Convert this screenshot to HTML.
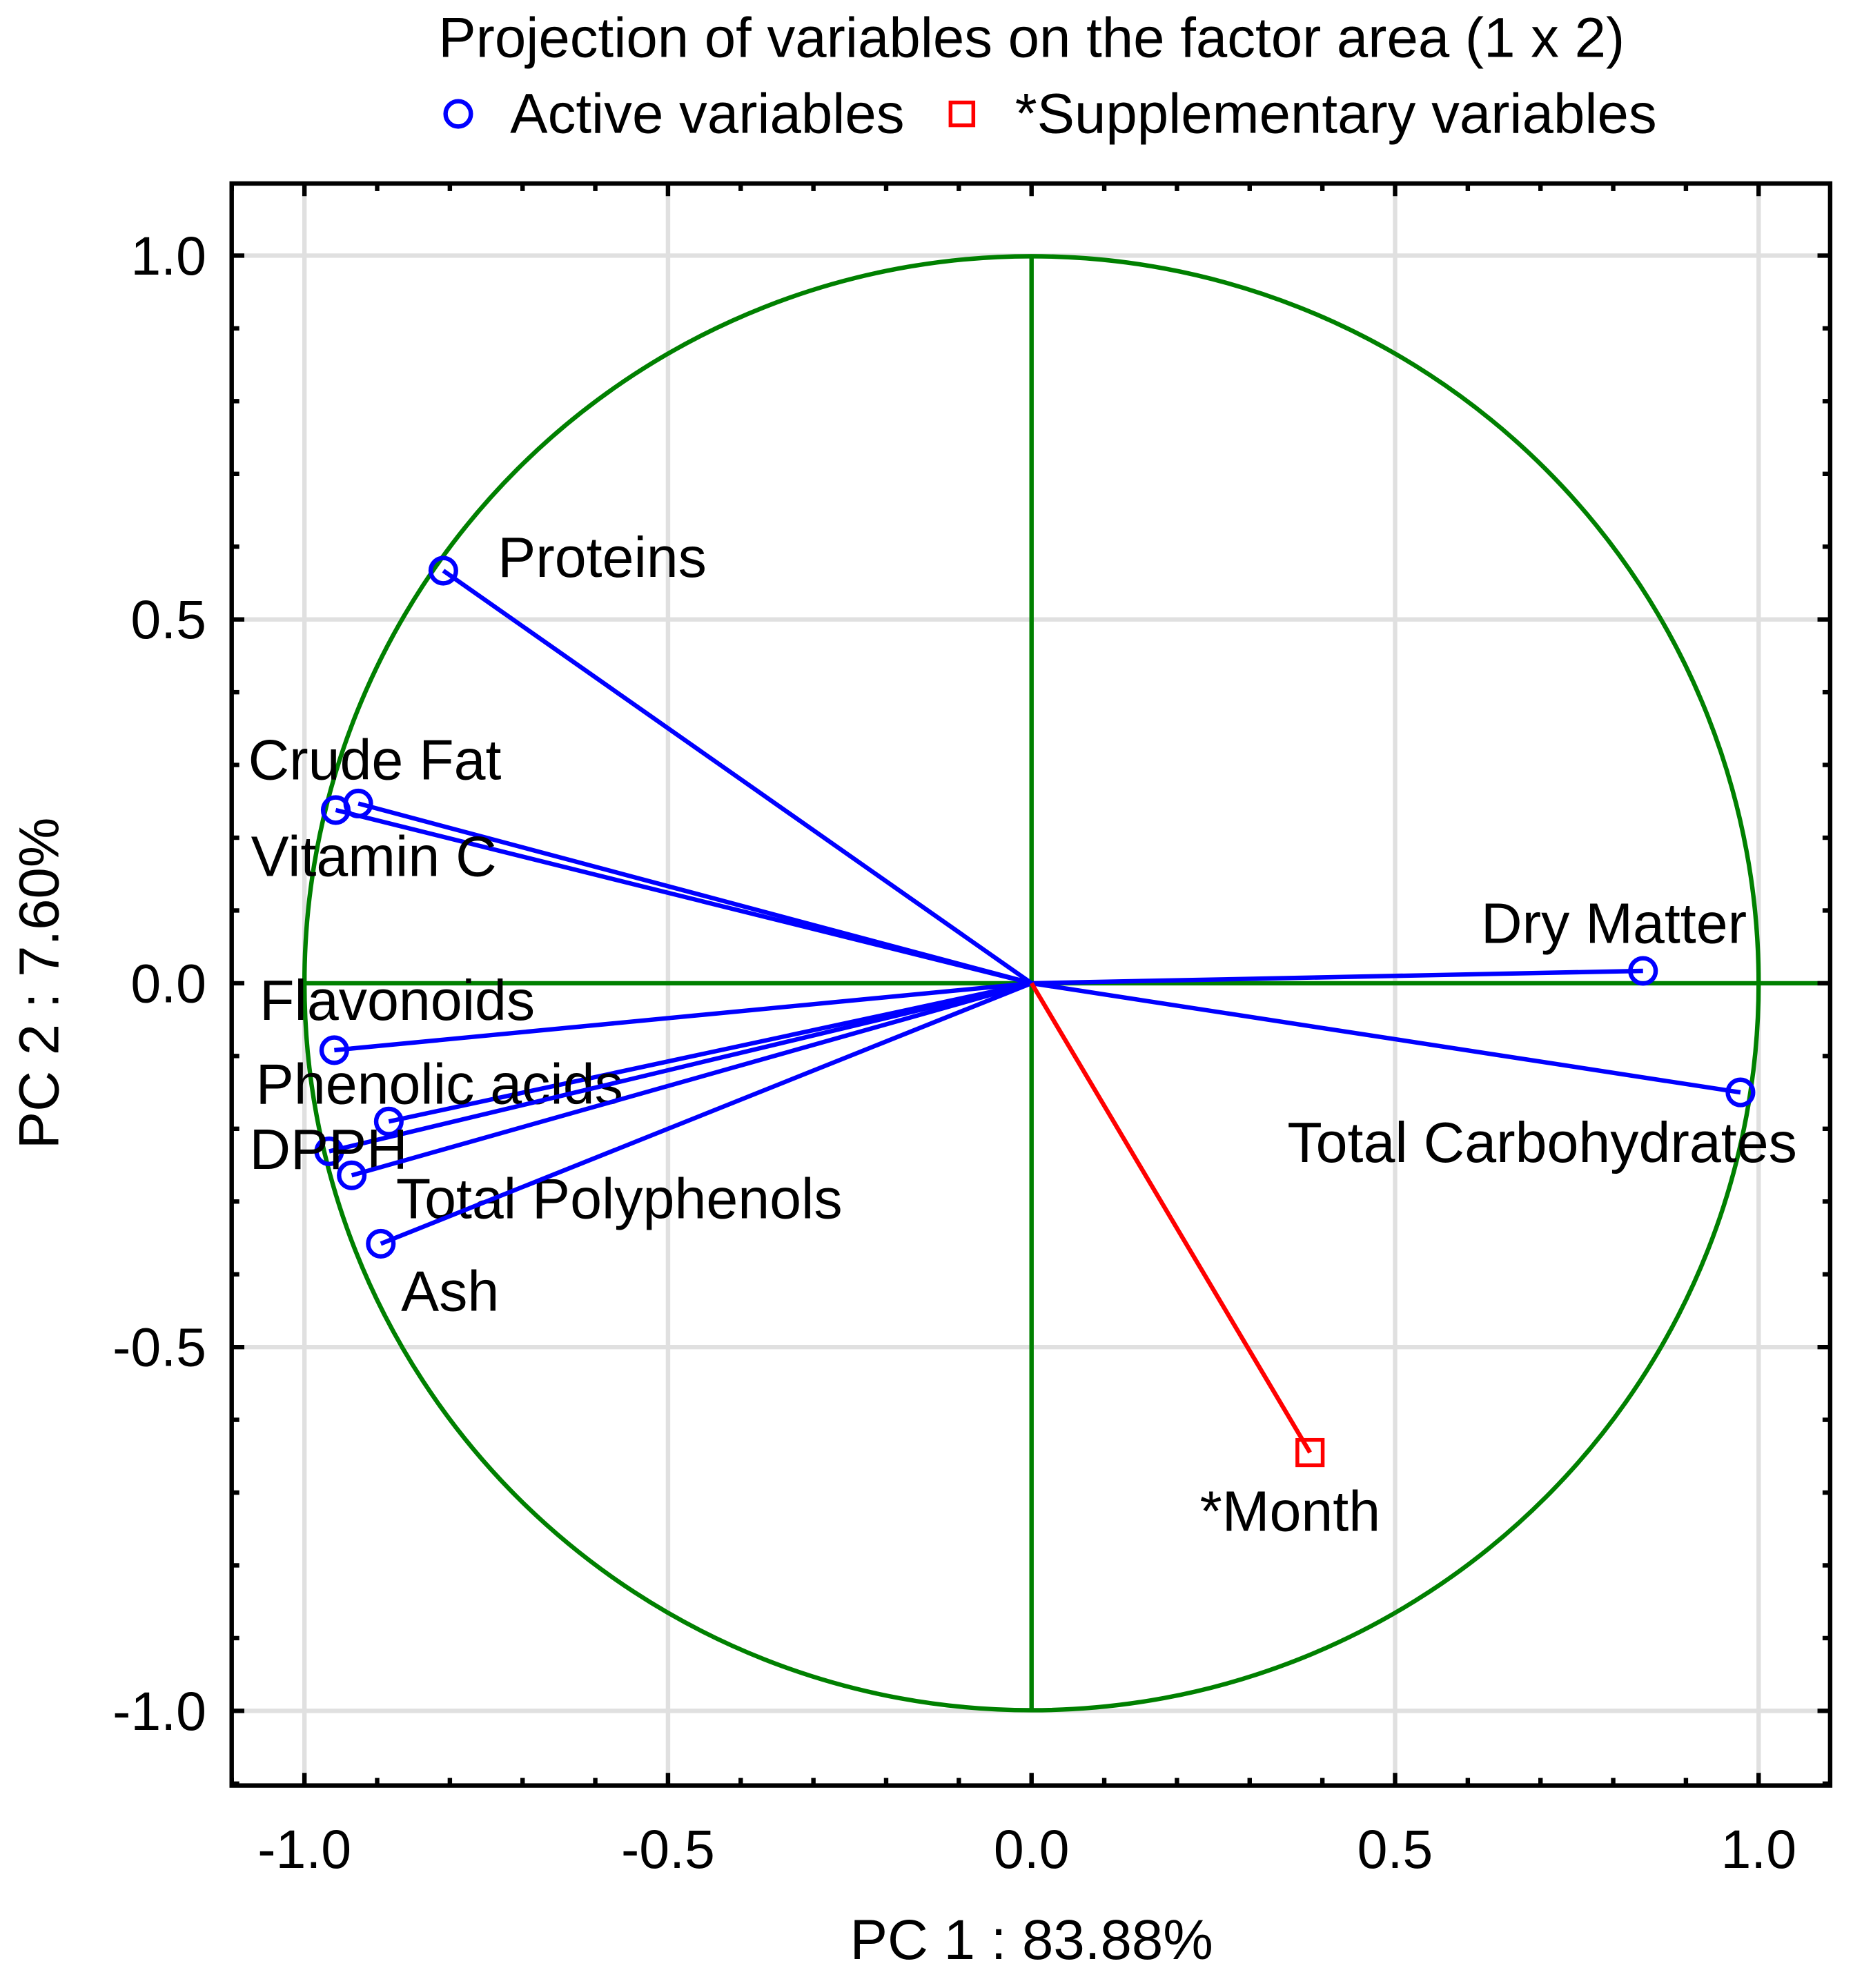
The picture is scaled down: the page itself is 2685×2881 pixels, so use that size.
<!DOCTYPE html>
<html><head><meta charset="utf-8"><style>html,body{margin:0;padding:0;background:#fff}svg{display:block}text{font-family:"Liberation Sans",Arial,sans-serif;fill:#000}</style></head>
<body>
<svg id="chart" width="2685" height="2881" viewBox="0 0 1464 1571" xmlns="http://www.w3.org/2000/svg">
<rect width="1464" height="1571" fill="#fff"/>
<g id="grid"></g>
<g id="circle"></g>
<g id="series"></g>
<g id="frame"></g>
<text x="815" y="45" font-size="44.5" text-anchor="middle">Projection of variables on the factor area (1 x 2)</text>
<g>
<circle cx="362" cy="90" r="10" fill="none" stroke="#0000ff" stroke-width="3.5"/>
<text x="403" y="105" font-size="44.5">Active variables</text>
<rect x="751" y="81" width="18" height="18" fill="none" stroke="#ff0000" stroke-width="3"/>
<text x="802" y="105" font-size="44.5">*Supplementary variables</text>
</g>
<text x="815" y="1548" font-size="44.5" text-anchor="middle">PC 1 : 83.88%</text>
<text x="0" y="0" font-size="44.5" text-anchor="middle" transform="translate(46,777) rotate(-90)">PC 2 :  7.60%</text>
</svg>
<script>
const activeNames = ["Proteins","Crude Fat","Vitamin C","Dry Matter","Total Carbohydrates","Flavonoids","Phenolic acids","DPPH","Total Polyphenols","Ash"];
const activePC1 = [-0.809,-0.926,-0.957,0.841,0.975,-0.959,-0.884,-0.966,-0.935,-0.895];
const activePC2 = [0.567,0.247,0.238,0.017,-0.150,-0.092,-0.190,-0.231,-0.264,-0.358];
const suppNames = ["*Month"];
const suppPC1 = [0.383];
const suppPC2 = [-0.645];
const tickValues = [-1.0,-0.5,0.0,0.5,1.0];
const tickLabels = ["-1.0","-0.5","0.0","0.5","1.0"];
// label offsets (px, display units) relative to each point
const activeLabelDx = [43,-87,-67,-128,-358,-59,-105,-63,35,16];
const activeLabelDy = [5,-19,52,-22,55,-24,-14,14,34,53];
const suppLabelDx = [-87];
const suppLabelDy = [62];

const NS="http://www.w3.org/2000/svg";
const L=183,R=1446,T=145,B=1411;
const sx=v=>815+v*574.5, sy=v=>777-v*575;
function mk(tag,attrs,parent){const e=document.createElementNS(NS,tag);for(const k in attrs)e.setAttribute(k,attrs[k]);parent.appendChild(e);return e;}
const grid=document.getElementById('grid'),circ=document.getElementById('circle'),ser=document.getElementById('series'),frame=document.getElementById('frame');
tickValues.forEach((v,i)=>{
  if(v!==0){
    const gx=mk('line',{x1:sx(v),x2:sx(v),y1:T,y2:B,stroke:'#e0e0e0','stroke-width':3.5},grid);
    
    
    const gy=mk('line',{x1:L,x2:R,y1:sy(v),y2:sy(v),stroke:'#e0e0e0','stroke-width':3.5},grid);
    
    
  }
  const tx=mk('text',{x:sx(v),y:1476,'font-size':43,'text-anchor':'middle'},frame);tx.textContent=tickLabels[i];
  
  
  const ty=mk('text',{x:163,y:sy(v)+15,'font-size':43,'text-anchor':'end'},frame);ty.textContent=tickLabels[i];
  
  
});
const c=mk('circle',{cx:sx(0),cy:sy(0),r:574.5,fill:'none',stroke:'#008000','stroke-width':3.5},circ);


const ax=mk('line',{x1:sx(-1),x2:R,y1:sy(0),y2:sy(0),stroke:'#008000','stroke-width':3.5},circ);


const ay=mk('line',{x1:sx(0),x2:sx(0),y1:sy(1),y2:sy(-1),stroke:'#008000','stroke-width':3.5},circ);


activeNames.forEach((n,i)=>{
  const x=sx(activePC1[i]),y=sy(activePC2[i]);
  const ln=mk('line',{x1:sx(0),y1:sy(0),x2:x,y2:y,stroke:'#0000ff','stroke-width':3.5},ser);
  
  
  const p=mk('circle',{cx:x,cy:y,r:10,fill:'none',stroke:'#0000ff','stroke-width':3.5},ser);
  
  
  const t=mk('text',{x:x+activeLabelDx[i],y:y+activeLabelDy[i],'font-size':45},ser);t.textContent=n;
  
  
});
suppNames.forEach((n,i)=>{
  const x=sx(suppPC1[i]),y=sy(suppPC2[i]);
  const ln=mk('line',{x1:sx(0),y1:sy(0),x2:x,y2:y,stroke:'#ff0000','stroke-width':3.5},ser);
  
  
  const p=mk('rect',{x:x-10,y:y-10,width:20,height:20,fill:'none',stroke:'#ff0000','stroke-width':3},ser);
  
  
  const t=mk('text',{x:x+suppLabelDx[i],y:y+suppLabelDy[i],'font-size':45},ser);t.textContent=n;
  
  
});
for(let k=-11;k<=11;k++){
  const v=k/10,major=(k%5===0),len=major?10:6;
  if(sx(v)>L&&sx(v)<R){
    mk('line',{x1:sx(v),x2:sx(v),y1:B,y2:B-len,stroke:'#000','stroke-width':3.5},frame);
    mk('line',{x1:sx(v),x2:sx(v),y1:T,y2:T+len,stroke:'#000','stroke-width':3.5},frame);
  }
  if(sy(v)>T&&sy(v)<B){
    mk('line',{x1:L,x2:L+len,y1:sy(v),y2:sy(v),stroke:'#000','stroke-width':3.5},frame);
    mk('line',{x1:R,x2:R-len,y1:sy(v),y2:sy(v),stroke:'#000','stroke-width':3.5},frame);
  }
}
const fr=mk('rect',{x:L,y:T,width:R-L,height:B-T,fill:'none',stroke:'#000','stroke-width':3.5},frame);


</script>
</body></html>
